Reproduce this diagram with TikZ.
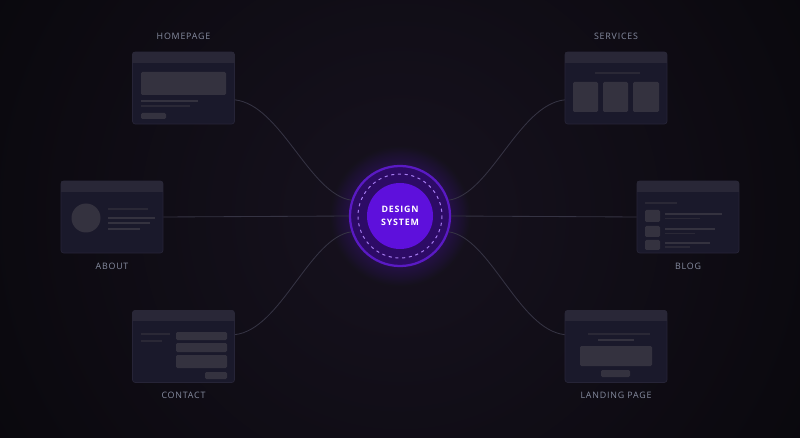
\documentclass[tikz,border=0pt]{standalone}
\usepackage{fontspec}
\setmainfont{Open Sans}
\newfontfamily\labfont[LetterSpace=9]{Open Sans}
\usetikzlibrary{fadings}
\definecolor{bgc}{HTML}{08070B}
\definecolor{glowc}{HTML}{17121F}
\definecolor{cardc}{HTML}{1A192B}
\definecolor{cardline}{HTML}{262437}
\definecolor{headc}{HTML}{292737}
\definecolor{boxc}{HTML}{34323F}
\definecolor{dimc}{HTML}{2A2836}
\definecolor{labc}{HTML}{868CA0}
\definecolor{wirec}{HTML}{353343}
\definecolor{ringc}{HTML}{2D0B66}
\definecolor{rimc}{HTML}{5A1AC4}
\definecolor{dashc}{HTML}{A57BF0}
\definecolor{corec}{HTML}{5E10DC}
\definecolor{haloc}{HTML}{4A12A8}
\tikzfading[name=halofade, inner color=transparent!0, outer color=transparent!100]
\tikzset{
  card/.style={draw=cardline, fill=cardc, rounded corners=2pt, line width=0.5pt,
    minimum width=2.55cm, minimum height=1.8cm, inner sep=0pt},
  lbl/.style={text=labc, font=\labfont\fontsize{6.3}{7}\selectfont},
  wire/.style={draw=wirec, line width=0.6pt},
  blk/.style={fill=boxc, rounded corners=1pt},
  dim/.style={fill=dimc}
}

\begin{document}
\begin{tikzpicture}[x=0.025cm, y=-0.025cm]
    \clip (0,0) rectangle (800,438);
    \fill[bgc] (0,0) rectangle (800,438);
    \shade[inner color=glowc, outer color=bgc] (400,216) circle (520);
    \fill[haloc, path fading=halofade] (400,216) circle (70);

    % the page cards
    \node[card] (home) at (183.5,88) {};
    \node[card] (serv) at (616,88) {};
    \node[card] (about) at (112,217) {};
    \node[card] (blog) at (688,217) {};
    \node[card] (cont) at (183.5,346.5) {};
    \node[card] (land) at (616,346.5) {};
    \foreach \c in {home,serv,about,blog,cont,land} {
      \begin{scope}
        \clip[rounded corners=2pt] (\c.south west) rectangle (\c.north east);
        \fill[headc] (\c.north west) rectangle ([yshift=-0.275cm]\c.north east);
      \end{scope}
    }

    \node[lbl] (homelbl) at (183.5,36) {HOMEPAGE};
    \node[lbl] (servlbl) at (616,36) {SERVICES};
    \node[lbl] (aboutlbl) at (112,266) {ABOUT};
    \node[lbl] (bloglbl) at (688,266) {BLOG};
    \node[lbl] (contlbl) at (183.5,395) {CONTACT};
    \node[lbl] (landlbl) at (616,395) {LANDING PAGE};

    % centre
    \node[circle, fill=ringc, draw=rimc, line width=1.6pt, minimum size=2.5cm] (ds) at (400,216) {};
    \draw[dashc, line width=0.7pt, dash pattern=on 2.2pt off 2.6pt] (ds.center) circle (42);
    \node[circle, fill=corec, minimum size=1.65cm, inner sep=0pt, text=white, align=center,
      font=\labfont\bfseries\fontsize{6.3}{9}\selectfont] (core) at (ds.center) {DESIGN\\SYSTEM};

    % connectors
    \draw[wire] (home.-13) .. controls +(46,5) and +(-42,-6) .. (ds.162);
    \draw[wire] (cont.13) .. controls +(46,-5) and +(-42,6) .. (ds.198);
    \draw[wire] (serv.193) .. controls +(-46,5) and +(42,-6) .. (ds.18);
    \draw[wire] (land.167) .. controls +(-46,-5) and +(42,6) .. (ds.-18);
    \draw[wire] (about.east) -- (ds.west);
    \draw[wire] (blog.west) -- (ds.east);

    % homepage
    \fill[blk] (141,72) rectangle (226,95);
    \fill[boxc] (141,100) rectangle (198,102);
    \fill[dim] (141,105.5) rectangle (190,107.5);
    \fill[blk] (141,113) rectangle (166,119);

    % about
    \fill[boxc] (86,218) circle (14.5);
    \fill[dim] (108,208.5) rectangle (148,210.5);
    \fill[boxc] (108,217) rectangle (155,219);
    \fill[boxc] (108,222) rectangle (150,224);
    \fill[boxc] (108,228) rectangle (140,230);

    % contact
    \fill[dim] (141,333) rectangle (170,335);
    \fill[dim] (141,340) rectangle (162,342);
    \fill[blk] (176,332) rectangle (227,340);
    \fill[blk] (176,343) rectangle (227,352);
    \fill[blk] (176,355) rectangle (227,368);
    \fill[blk] (205,372) rectangle (227,379);

    % services
    \fill[dim] (595,72) rectangle (640,74);
    \fill[blk] (573,82) rectangle (598,112);
    \fill[blk] (603,82) rectangle (628,112);
    \fill[blk] (633,82) rectangle (659,112);

    % blog
    \fill[dim] (645,202) rectangle (677,204);
    \fill[blk] (645,210) rectangle (660,222);
    \fill[blk] (645,226) rectangle (660,237);
    \fill[blk] (645,240) rectangle (660,250);
    \fill[boxc] (665,213) rectangle (722,215);
    \fill[dim] (665,218) rectangle (700,219.5);
    \fill[boxc] (665,228.5) rectangle (715,230.5);
    \fill[dim] (665,233) rectangle (695,234.5);
    \fill[boxc] (665,242) rectangle (710,244);
    \fill[dim] (665,246.5) rectangle (690,248);

    % landing page
    \fill[dim] (588,333) rectangle (650,335);
    \fill[boxc] (598,339) rectangle (634,341);
    \fill[blk] (580,346) rectangle (652,366);
    \fill[blk] (601,370) rectangle (630,377);
\end{tikzpicture}
\end{document}
